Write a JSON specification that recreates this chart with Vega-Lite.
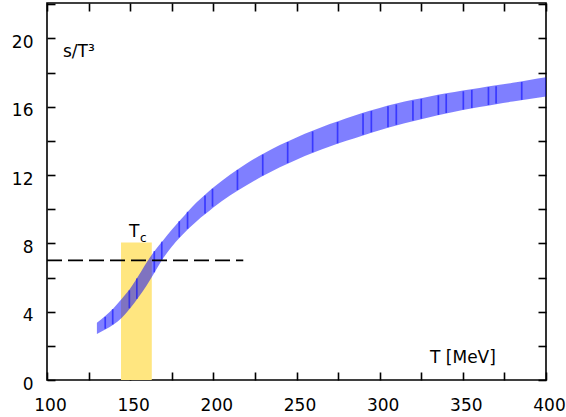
{
  "$schema": "https://vega.github.io/schema/vega-lite/v6.json",
  "width": 499,
  "height": 377,
  "autosize": {"type": "none"},
  "padding": {"left": 47, "top": 3, "right": 20, "bottom": 37},
  "background": "white",
  "config": {
    "view": {"stroke": "black", "strokeWidth": 1.6},
    "axis": {
      "domain": false, "grid": false, "tickColor": "black", "tickWidth": 1.6, "tickSize": -8,
      "labelFont": "DejaVu Sans", "labelFontSize": 17, "labelColor": "black", "title": null,
      "labelFlush": false, "labelOverlap": false, "labelBound": false
    },
    "text": {"font": "DejaVu Sans", "color": "black"}
  },
  "datasets": {
    "band": [
      {"T": 130, "lo": 2.7, "hi": 3.35},
      {"T": 135, "lo": 2.95, "hi": 3.75},
      {"T": 140, "lo": 3.25, "hi": 4.2},
      {"T": 145, "lo": 3.65, "hi": 4.75},
      {"T": 150, "lo": 4.2, "hi": 5.35},
      {"T": 155, "lo": 4.85, "hi": 6.1},
      {"T": 160, "lo": 5.55, "hi": 6.9},
      {"T": 165, "lo": 6.35, "hi": 7.6},
      {"T": 170, "lo": 7.15, "hi": 8.2},
      {"T": 175, "lo": 7.8, "hi": 8.8},
      {"T": 180, "lo": 8.35, "hi": 9.35},
      {"T": 185, "lo": 8.85, "hi": 9.9},
      {"T": 190, "lo": 9.3, "hi": 10.4},
      {"T": 195, "lo": 9.7, "hi": 10.85},
      {"T": 200, "lo": 10.1, "hi": 11.27},
      {"T": 210, "lo": 10.8, "hi": 12.02},
      {"T": 220, "lo": 11.4, "hi": 12.68},
      {"T": 230, "lo": 11.95, "hi": 13.25},
      {"T": 240, "lo": 12.45, "hi": 13.75},
      {"T": 250, "lo": 12.9, "hi": 14.2},
      {"T": 260, "lo": 13.3, "hi": 14.6},
      {"T": 270, "lo": 13.67, "hi": 14.98},
      {"T": 280, "lo": 14.0, "hi": 15.33},
      {"T": 290, "lo": 14.32, "hi": 15.65},
      {"T": 300, "lo": 14.62, "hi": 15.93},
      {"T": 310, "lo": 14.9, "hi": 16.18},
      {"T": 320, "lo": 15.15, "hi": 16.4},
      {"T": 330, "lo": 15.38, "hi": 16.6},
      {"T": 340, "lo": 15.6, "hi": 16.78},
      {"T": 350, "lo": 15.8, "hi": 16.95},
      {"T": 360, "lo": 15.98, "hi": 17.1},
      {"T": 370, "lo": 16.15, "hi": 17.25},
      {"T": 380, "lo": 16.3, "hi": 17.4},
      {"T": 390, "lo": 16.45, "hi": 17.56},
      {"T": 400, "lo": 16.59, "hi": 17.72}
    ],
    "lines": [
      {"T": 135, "lo": 3.0, "hi": 3.7},
      {"T": 139.5, "lo": 3.25, "hi": 4.15},
      {"T": 149.5, "lo": 4.2, "hi": 5.25},
      {"T": 154, "lo": 4.75, "hi": 5.95},
      {"T": 164.5, "lo": 6.3, "hi": 7.55},
      {"T": 169, "lo": 7.05, "hi": 8.1},
      {"T": 179.5, "lo": 8.35, "hi": 9.3},
      {"T": 184.5, "lo": 8.85, "hi": 9.85},
      {"T": 195, "lo": 9.75, "hi": 10.8},
      {"T": 199.5, "lo": 10.15, "hi": 11.2},
      {"T": 214.5, "lo": 11.12, "hi": 12.3},
      {"T": 229.7, "lo": 11.97, "hi": 13.2},
      {"T": 244.7, "lo": 12.7, "hi": 13.93},
      {"T": 259.7, "lo": 13.33, "hi": 14.55},
      {"T": 274.7, "lo": 13.85, "hi": 15.1},
      {"T": 290, "lo": 14.36, "hi": 15.6},
      {"T": 295, "lo": 14.5, "hi": 15.75},
      {"T": 305, "lo": 14.8, "hi": 16.02},
      {"T": 310, "lo": 14.94, "hi": 16.13},
      {"T": 320, "lo": 15.19, "hi": 16.35},
      {"T": 325, "lo": 15.3, "hi": 16.46},
      {"T": 335.3, "lo": 15.52, "hi": 16.66},
      {"T": 340, "lo": 15.63, "hi": 16.74},
      {"T": 350.3, "lo": 15.83, "hi": 16.9},
      {"T": 355.4, "lo": 15.92, "hi": 16.98},
      {"T": 365.4, "lo": 16.1, "hi": 17.15},
      {"T": 370, "lo": 16.18, "hi": 17.2},
      {"T": 385.4, "lo": 16.4, "hi": 17.45}
    ],
    "tc": [{"t0": 144.5, "t1": 163, "y0": 0, "y1": 8.05}],
    "dash": [{"t0": 100, "t1": 218, "v": 7}],
    "bigtext": [
      {"T": 109.6, "v": 18.9, "label": "s/T³"},
      {"T": 330.3, "v": 1.0, "label": "T [MeV]"},
      {"T": 149.3, "v": 8.37, "label": "T"}
    ],
    "subtext": [{"T": 155.9, "v": 8.05, "label": "c"}]
  },
  "layer": [
    {
      "data": {"name": "tc"},
      "mark": {"type": "rect", "color": "#ffe680"},
      "encoding": {
        "x": {"field": "t0", "type": "quantitative", "scale": {"domain": [100, 400], "nice": false, "zero": false},
              "axis": {"orient": "bottom", "values": [100,125,150,175,200,225,250,275,300,325,350,375,400],
                       "labelExpr": "datum.value % 50 === 0 ? datum.label : ''", "labelPadding": 25, "labelOffset": 3}},
        "x2": {"field": "t1"},
        "y": {"field": "y0", "type": "quantitative", "scale": {"domain": [0, 22.07], "nice": false},
              "axis": {"orient": "left", "values": [0,2,4,6,8,10,12,14,16,18,20,22],
                       "labelExpr": "datum.value % 4 === 0 ? datum.label : ''", "labelPadding": 22, "labelOffset": 4}},
        "y2": {"field": "y1"}
      }
    },
    {
      "data": {"name": "band"},
      "mark": {"type": "area", "color": "#0000ff", "opacity": 0.5, "interpolate": "monotone"},
      "encoding": {
        "x": {"field": "T", "type": "quantitative",
              "axis": {"orient": "top", "values": [100,125,150,175,200,225,250,275,300,325,350,375,400], "labels": false}},
        "y": {"field": "lo", "type": "quantitative",
              "axis": {"orient": "right", "values": [0,2,4,6,8,10,12,14,16,18,20,22], "labels": false}},
        "y2": {"field": "hi"}
      }
    },
    {
      "data": {"name": "lines"},
      "mark": {"type": "rule", "color": "#0000ff", "opacity": 0.55, "strokeWidth": 1.7},
      "encoding": {
        "x": {"field": "T", "type": "quantitative", "axis": null},
        "y": {"field": "lo", "type": "quantitative", "axis": null},
        "y2": {"field": "hi"}
      }
    },
    {
      "data": {"name": "dash"},
      "mark": {"type": "rule", "color": "black", "strokeWidth": 1.8, "strokeDash": [15, 6]},
      "encoding": {
        "x": {"field": "t0", "type": "quantitative", "axis": null},
        "x2": {"field": "t1"},
        "y": {"field": "v", "type": "quantitative", "axis": null}
      }
    },
    {
      "data": {"name": "bigtext"},
      "mark": {"type": "text", "align": "left", "baseline": "alphabetic", "fontSize": 17},
      "encoding": {
        "x": {"field": "T", "type": "quantitative", "axis": null},
        "y": {"field": "v", "type": "quantitative", "axis": null},
        "text": {"field": "label"}
      }
    },
    {
      "data": {"name": "subtext"},
      "mark": {"type": "text", "align": "left", "baseline": "alphabetic", "fontSize": 12},
      "encoding": {
        "x": {"field": "T", "type": "quantitative", "axis": null},
        "y": {"field": "v", "type": "quantitative", "axis": null},
        "text": {"field": "label"}
      }
    }
  ],
  "resolve": {"axis": {"x": "independent", "y": "independent"}}
}
